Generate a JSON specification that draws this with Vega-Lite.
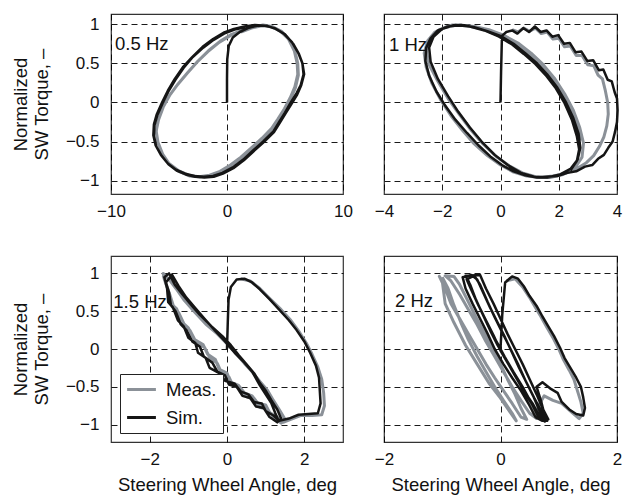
{
"$schema": "https://vega.github.io/schema/vega-lite/v6.json",
"padding": {"left": 11, "top": 13, "right": 3, "bottom": 0},
"config": {
 "font": "Liberation Sans",
 "view": {"stroke": "#333", "strokeWidth": 1.2},
 "axis": {"grid": true, "gridColor": "#000", "gridDash": [6, 4], "gridWidth": 0.9, "gridOpacity": 1, "domain": false, "ticks": false, "labelFontSize": 17, "labelColor": "#111", "titleFontSize": 18.5, "titleColor": "#111", "titleFontWeight": "normal", "labelFlush": false, "labelOverlap": false, "labelBound": false, "format": ".2~f"},
 "axisX": {"labelPadding": 9, "titlePadding": 8},
 "axisY": {"labelPadding": 12, "titlePadding": 14},
 "legend": {"orient": "bottom-left", "offset": 9, "fillColor": "white", "strokeColor": "#222", "padding": 6, "symbolType": "M-1.8,0H1.8", "symbolSize": 256, "symbolOffset": 6, "symbolStrokeWidth": 3, "labelFontSize": 18.5, "labelColor": "#111", "labelOffset": 15, "rowPadding": 9, "title": null}
},
"datasets": {
 "s1": [{"i":0,"x":0,"y":0},{"i":1,"x":0,"y":0.3},{"i":2,"x":0.02,"y":0.55},{"i":3,"x":0.15,"y":0.72},{"i":4,"x":0.5,"y":0.83},{"i":5,"x":1.1,"y":0.9},{"i":6,"x":1.8,"y":0.95},{"i":7,"x":2.6,"y":0.98},{"i":8,"x":3.4,"y":0.98},{"i":9,"x":4.2,"y":0.94},{"i":10,"x":5.0,"y":0.87},{"i":11,"x":5.7,"y":0.75},{"i":12,"x":6.2,"y":0.62},{"i":13,"x":6.5,"y":0.5},{"i":14,"x":6.6,"y":0.36},{"i":15,"x":6.35,"y":0.22},{"i":16,"x":6.0,"y":0.12},{"i":17,"x":5.5,"y":0.0},{"i":18,"x":5.0,"y":-0.13},{"i":19,"x":4.5,"y":-0.25},{"i":20,"x":4.0,"y":-0.37},{"i":21,"x":3.1,"y":-0.5},{"i":22,"x":2.2,"y":-0.62},{"i":23,"x":1.4,"y":-0.73},{"i":24,"x":0.5,"y":-0.83},{"i":25,"x":-0.4,"y":-0.9},{"i":26,"x":-1.2,"y":-0.94},{"i":27,"x":-2.0,"y":-0.95},{"i":28,"x":-2.8,"y":-0.94},{"i":29,"x":-3.6,"y":-0.91},{"i":30,"x":-4.4,"y":-0.86},{"i":31,"x":-5.1,"y":-0.78},{"i":32,"x":-5.7,"y":-0.67},{"i":33,"x":-6.15,"y":-0.55},{"i":34,"x":-6.35,"y":-0.42},{"i":35,"x":-6.3,"y":-0.28},{"i":36,"x":-6.05,"y":-0.15},{"i":37,"x":-5.6,"y":0.0},{"i":38,"x":-5.1,"y":0.15},{"i":39,"x":-4.5,"y":0.3},{"i":40,"x":-3.8,"y":0.45},{"i":41,"x":-3.0,"y":0.58},{"i":42,"x":-2.1,"y":0.71},{"i":43,"x":-1.2,"y":0.81},{"i":44,"x":-0.3,"y":0.89},{"i":45,"x":0.6,"y":0.94},{"i":46,"x":1.5,"y":0.97},{"i":47,"x":2.4,"y":0.99},{"i":48,"x":3.3,"y":0.98},{"i":49,"x":4.1,"y":0.95},{"i":50,"x":4.9,"y":0.88},{"i":51,"x":5.6,"y":0.77},{"i":52,"x":6.15,"y":0.63},{"i":53,"x":6.5,"y":0.5},{"i":54,"x":6.65,"y":0.36},{"i":55,"x":6.4,"y":0.22},{"i":56,"x":6.05,"y":0.1},{"i":57,"x":5.55,"y":-0.02},{"i":58,"x":5.05,"y":-0.14},{"i":59,"x":4.55,"y":-0.26},{"i":60,"x":4.05,"y":-0.38},{"i":61,"x":3.15,"y":-0.51},{"i":62,"x":2.25,"y":-0.63},{"i":63,"x":1.45,"y":-0.74},{"i":64,"x":0.55,"y":-0.84},{"i":65,"x":-0.35,"y":-0.91},{"i":66,"x":-1.15,"y":-0.95},{"i":67,"x":-1.95,"y":-0.96},{"i":68,"x":-2.75,"y":-0.95},{"i":69,"x":-3.55,"y":-0.92},{"i":70,"x":-4.35,"y":-0.87},{"i":71,"x":-5.05,"y":-0.79},{"i":72,"x":-5.65,"y":-0.68},{"i":73,"x":-6.1,"y":-0.56},{"i":74,"x":-6.3,"y":-0.43},{"i":75,"x":-6.25,"y":-0.29},{"i":76,"x":-6.0,"y":-0.16},{"i":77,"x":-5.55,"y":-0.01},{"i":78,"x":-5.05,"y":0.14},{"i":79,"x":-4.45,"y":0.29},{"i":80,"x":-3.75,"y":0.44},{"i":81,"x":-2.95,"y":0.58},{"i":82,"x":-2.05,"y":0.7},{"i":83,"x":-1.15,"y":0.8},{"i":84,"x":-0.25,"y":0.88},{"i":85,"x":0.65,"y":0.93},{"i":86,"x":1.55,"y":0.96}],
 "m1": [{"i":0,"x":1.2,"y":0.9},{"i":1,"x":2.1,"y":0.95},{"i":2,"x":3.0,"y":0.98},{"i":3,"x":3.8,"y":0.97},{"i":4,"x":4.6,"y":0.91},{"i":5,"x":5.3,"y":0.81},{"i":6,"x":5.8,"y":0.66},{"i":7,"x":6.05,"y":0.5},{"i":8,"x":6.1,"y":0.36},{"i":9,"x":5.85,"y":0.2},{"i":10,"x":5.45,"y":0.06},{"i":11,"x":4.95,"y":-0.08},{"i":12,"x":4.4,"y":-0.21},{"i":13,"x":3.85,"y":-0.33},{"i":14,"x":3.0,"y":-0.46},{"i":15,"x":2.1,"y":-0.58},{"i":16,"x":1.2,"y":-0.7},{"i":17,"x":0.3,"y":-0.8},{"i":18,"x":-0.6,"y":-0.88},{"i":19,"x":-1.5,"y":-0.93},{"i":20,"x":-2.4,"y":-0.95},{"i":21,"x":-3.3,"y":-0.93},{"i":22,"x":-4.2,"y":-0.87},{"i":23,"x":-5.0,"y":-0.78},{"i":24,"x":-5.6,"y":-0.65},{"i":25,"x":-6.0,"y":-0.5},{"i":26,"x":-6.1,"y":-0.36},{"i":27,"x":-5.9,"y":-0.22},{"i":28,"x":-5.5,"y":-0.06},{"i":29,"x":-4.9,"y":0.1},{"i":30,"x":-4.2,"y":0.24},{"i":31,"x":-3.4,"y":0.38},{"i":32,"x":-2.5,"y":0.53},{"i":33,"x":-1.6,"y":0.66},{"i":34,"x":-0.6,"y":0.78},{"i":35,"x":0.4,"y":0.87},{"i":36,"x":1.3,"y":0.92},{"i":37,"x":2.2,"y":0.96},{"i":38,"x":3.1,"y":0.99},{"i":39,"x":3.9,"y":0.97},{"i":40,"x":4.7,"y":0.91},{"i":41,"x":5.35,"y":0.8},{"i":42,"x":5.85,"y":0.66},{"i":43,"x":6.1,"y":0.5},{"i":44,"x":6.15,"y":0.35},{"i":45,"x":5.9,"y":0.19},{"i":46,"x":5.5,"y":0.05},{"i":47,"x":5.0,"y":-0.09},{"i":48,"x":4.45,"y":-0.22},{"i":49,"x":3.9,"y":-0.34},{"i":50,"x":3.05,"y":-0.47},{"i":51,"x":2.15,"y":-0.59},{"i":52,"x":1.25,"y":-0.71},{"i":53,"x":0.35,"y":-0.81},{"i":54,"x":-0.55,"y":-0.88},{"i":55,"x":-1.45,"y":-0.93},{"i":56,"x":-2.35,"y":-0.95},{"i":57,"x":-3.25,"y":-0.94},{"i":58,"x":-4.15,"y":-0.88},{"i":59,"x":-4.95,"y":-0.79},{"i":60,"x":-5.55,"y":-0.66},{"i":61,"x":-5.95,"y":-0.51},{"i":62,"x":-6.1,"y":-0.37},{"i":63,"x":-5.95,"y":-0.23},{"i":64,"x":-5.55,"y":-0.07},{"i":65,"x":-4.95,"y":0.09},{"i":66,"x":-4.25,"y":0.23},{"i":67,"x":-3.45,"y":0.37},{"i":68,"x":-2.55,"y":0.52},{"i":69,"x":-1.65,"y":0.65},{"i":70,"x":-0.65,"y":0.77},{"i":71,"x":0.35,"y":0.86},{"i":72,"x":1.25,"y":0.91}],
 "s2": [{"i":0,"x":0,"y":0},{"i":1,"x":0.02,"y":0.4},{"i":2,"x":0.05,"y":0.85},{"i":3,"x":0.2,"y":0.9},{"i":4,"x":0.4,"y":0.92},{"i":5,"x":0.58,"y":0.88},{"i":6,"x":0.78,"y":0.95},{"i":7,"x":0.98,"y":0.9},{"i":8,"x":1.18,"y":0.97},{"i":9,"x":1.38,"y":0.9},{"i":10,"x":1.58,"y":0.92},{"i":11,"x":1.78,"y":0.84},{"i":12,"x":1.98,"y":0.86},{"i":13,"x":2.18,"y":0.75},{"i":14,"x":2.38,"y":0.76},{"i":15,"x":2.58,"y":0.64},{"i":16,"x":2.78,"y":0.65},{"i":17,"x":2.98,"y":0.53},{"i":18,"x":3.18,"y":0.54},{"i":19,"x":3.38,"y":0.41},{"i":20,"x":3.53,"y":0.42},{"i":21,"x":3.68,"y":0.29},{"i":22,"x":3.82,"y":0.27},{"i":23,"x":3.92,"y":0.13},{"i":24,"x":4.0,"y":0.05},{"i":25,"x":4.02,"y":-0.1},{"i":26,"x":4.0,"y":-0.25},{"i":27,"x":3.93,"y":-0.38},{"i":28,"x":3.85,"y":-0.5},{"i":29,"x":3.7,"y":-0.58},{"i":30,"x":3.55,"y":-0.67},{"i":31,"x":3.35,"y":-0.72},{"i":32,"x":3.15,"y":-0.8},{"i":33,"x":2.9,"y":-0.82},{"i":34,"x":2.6,"y":-0.88},{"i":35,"x":2.3,"y":-0.9},{"i":36,"x":1.95,"y":-0.94},{"i":37,"x":1.6,"y":-0.95},{"i":38,"x":1.25,"y":-0.96},{"i":39,"x":0.85,"y":-0.93},{"i":40,"x":0.45,"y":-0.88},{"i":41,"x":0.05,"y":-0.8},{"i":42,"x":-0.35,"y":-0.69},{"i":43,"x":-0.75,"y":-0.55},{"i":44,"x":-1.15,"y":-0.39},{"i":45,"x":-1.55,"y":-0.22},{"i":46,"x":-1.9,"y":-0.04},{"i":47,"x":-2.2,"y":0.14},{"i":48,"x":-2.45,"y":0.34},{"i":49,"x":-2.58,"y":0.53},{"i":50,"x":-2.55,"y":0.7},{"i":51,"x":-2.4,"y":0.82},{"i":52,"x":-2.15,"y":0.92},{"i":53,"x":-1.8,"y":0.97},{"i":54,"x":-1.35,"y":0.99},{"i":55,"x":-0.9,"y":0.96},{"i":56,"x":-0.45,"y":0.91},{"i":57,"x":0.0,"y":0.85},{"i":58,"x":0.45,"y":0.75},{"i":59,"x":0.85,"y":0.63},{"i":60,"x":1.25,"y":0.5},{"i":61,"x":1.6,"y":0.36},{"i":62,"x":1.95,"y":0.19},{"i":63,"x":2.25,"y":0.0},{"i":64,"x":2.5,"y":-0.2},{"i":65,"x":2.68,"y":-0.4},{"i":66,"x":2.74,"y":-0.58},{"i":67,"x":2.65,"y":-0.73},{"i":68,"x":2.4,"y":-0.85},{"i":69,"x":2.05,"y":-0.92},{"i":70,"x":1.6,"y":-0.96},{"i":71,"x":1.15,"y":-0.95},{"i":72,"x":0.7,"y":-0.9},{"i":73,"x":0.25,"y":-0.8},{"i":74,"x":-0.2,"y":-0.67},{"i":75,"x":-0.65,"y":-0.5},{"i":76,"x":-1.05,"y":-0.32},{"i":77,"x":-1.45,"y":-0.12},{"i":78,"x":-1.8,"y":0.08},{"i":79,"x":-2.15,"y":0.3},{"i":80,"x":-2.4,"y":0.52},{"i":81,"x":-2.45,"y":0.7},{"i":82,"x":-2.3,"y":0.84},{"i":83,"x":-2.0,"y":0.94},{"i":84,"x":-1.55,"y":0.99},{"i":85,"x":-1.05,"y":0.97},{"i":86,"x":-0.55,"y":0.92},{"i":87,"x":-0.05,"y":0.84},{"i":88,"x":0.4,"y":0.74},{"i":89,"x":0.8,"y":0.62},{"i":90,"x":1.2,"y":0.49},{"i":91,"x":1.55,"y":0.35},{"i":92,"x":1.9,"y":0.18},{"i":93,"x":2.2,"y":-0.01},{"i":94,"x":2.45,"y":-0.22},{"i":95,"x":2.62,"y":-0.43},{"i":96,"x":2.7,"y":-0.6},{"i":97,"x":2.62,"y":-0.75},{"i":98,"x":2.4,"y":-0.87}],
 "m2": [{"i":0,"x":0.4,"y":0.93},{"i":1,"x":0.6,"y":0.9},{"i":2,"x":0.8,"y":0.95},{"i":3,"x":1.0,"y":0.91},{"i":4,"x":1.2,"y":0.95},{"i":5,"x":1.4,"y":0.88},{"i":6,"x":1.6,"y":0.9},{"i":7,"x":1.8,"y":0.81},{"i":8,"x":2.0,"y":0.82},{"i":9,"x":2.2,"y":0.71},{"i":10,"x":2.4,"y":0.72},{"i":11,"x":2.6,"y":0.6},{"i":12,"x":2.8,"y":0.6},{"i":13,"x":3.0,"y":0.48},{"i":14,"x":3.2,"y":0.47},{"i":15,"x":3.35,"y":0.35},{"i":16,"x":3.5,"y":0.3},{"i":17,"x":3.6,"y":0.15},{"i":18,"x":3.68,"y":0.0},{"i":19,"x":3.7,"y":-0.15},{"i":20,"x":3.65,"y":-0.3},{"i":21,"x":3.55,"y":-0.44},{"i":22,"x":3.4,"y":-0.56},{"i":23,"x":3.2,"y":-0.68},{"i":24,"x":2.95,"y":-0.77},{"i":25,"x":2.6,"y":-0.85},{"i":26,"x":2.2,"y":-0.91},{"i":27,"x":1.8,"y":-0.94},{"i":28,"x":1.35,"y":-0.96},{"i":29,"x":0.9,"y":-0.94},{"i":30,"x":0.45,"y":-0.89},{"i":31,"x":0.0,"y":-0.8},{"i":32,"x":-0.45,"y":-0.68},{"i":33,"x":-0.9,"y":-0.53},{"i":34,"x":-1.3,"y":-0.36},{"i":35,"x":-1.7,"y":-0.17},{"i":36,"x":-2.05,"y":0.03},{"i":37,"x":-2.35,"y":0.24},{"i":38,"x":-2.55,"y":0.45},{"i":39,"x":-2.62,"y":0.63},{"i":40,"x":-2.5,"y":0.79},{"i":41,"x":-2.25,"y":0.9},{"i":42,"x":-1.85,"y":0.97},{"i":43,"x":-1.4,"y":0.99},{"i":44,"x":-0.9,"y":0.97},{"i":45,"x":-0.4,"y":0.93},{"i":46,"x":0.1,"y":0.86},{"i":47,"x":0.6,"y":0.76},{"i":48,"x":1.05,"y":0.63},{"i":49,"x":1.45,"y":0.49},{"i":50,"x":1.85,"y":0.31},{"i":51,"x":2.2,"y":0.11},{"i":52,"x":2.5,"y":-0.1},{"i":53,"x":2.72,"y":-0.32},{"i":54,"x":2.85,"y":-0.52},{"i":55,"x":2.8,"y":-0.7},{"i":56,"x":2.55,"y":-0.84},{"i":57,"x":2.15,"y":-0.92},{"i":58,"x":1.7,"y":-0.96},{"i":59,"x":1.2,"y":-0.95},{"i":60,"x":0.75,"y":-0.9},{"i":61,"x":0.3,"y":-0.81},{"i":62,"x":-0.15,"y":-0.69},{"i":63,"x":-0.6,"y":-0.53},{"i":64,"x":-1.0,"y":-0.36},{"i":65,"x":-1.4,"y":-0.16},{"i":66,"x":-1.8,"y":0.05},{"i":67,"x":-2.15,"y":0.27},{"i":68,"x":-2.45,"y":0.48},{"i":69,"x":-2.55,"y":0.67},{"i":70,"x":-2.4,"y":0.82},{"i":71,"x":-2.1,"y":0.93},{"i":72,"x":-1.65,"y":0.99},{"i":73,"x":-1.15,"y":0.98},{"i":74,"x":-0.65,"y":0.94},{"i":75,"x":-0.15,"y":0.87},{"i":76,"x":0.35,"y":0.78},{"i":77,"x":0.8,"y":0.66},{"i":78,"x":1.25,"y":0.52},{"i":79,"x":1.65,"y":0.35},{"i":80,"x":2.0,"y":0.16},{"i":81,"x":2.35,"y":-0.05},{"i":82,"x":2.6,"y":-0.27},{"i":83,"x":2.78,"y":-0.48}],
 "s3": [{"i":0,"x":0,"y":0},{"i":1,"x":0.02,"y":0.35},{"i":2,"x":0.04,"y":0.65},{"i":3,"x":0.1,"y":0.82},{"i":4,"x":0.25,"y":0.92},{"i":5,"x":0.45,"y":0.93},{"i":6,"x":0.65,"y":0.88},{"i":7,"x":0.85,"y":0.79},{"i":8,"x":1.1,"y":0.66},{"i":9,"x":1.35,"y":0.52},{"i":10,"x":1.6,"y":0.38},{"i":11,"x":1.8,"y":0.25},{"i":12,"x":2.0,"y":0.1},{"i":13,"x":2.15,"y":-0.05},{"i":14,"x":2.3,"y":-0.22},{"i":15,"x":2.38,"y":-0.38},{"i":16,"x":2.4,"y":-0.55},{"i":17,"x":2.42,"y":-0.72},{"i":18,"x":2.35,"y":-0.85},{"i":19,"x":2.1,"y":-0.86},{"i":20,"x":1.85,"y":-0.87},{"i":21,"x":1.6,"y":-0.92},{"i":22,"x":1.35,"y":-0.95},{"i":23,"x":1.2,"y":-0.88},{"i":24,"x":1.0,"y":-0.82},{"i":25,"x":0.9,"y":-0.72},{"i":26,"x":0.7,"y":-0.7},{"i":27,"x":0.55,"y":-0.6},{"i":28,"x":0.35,"y":-0.56},{"i":29,"x":0.2,"y":-0.46},{"i":30,"x":-0.05,"y":-0.42},{"i":31,"x":-0.2,"y":-0.32},{"i":32,"x":-0.45,"y":-0.25},{"i":33,"x":-0.55,"y":-0.12},{"i":34,"x":-0.75,"y":-0.05},{"i":35,"x":-0.82,"y":0.08},{"i":36,"x":-1.0,"y":0.15},{"i":37,"x":-1.12,"y":0.3},{"i":38,"x":-1.27,"y":0.38},{"i":39,"x":-1.4,"y":0.55},{"i":40,"x":-1.52,"y":0.62},{"i":41,"x":-1.55,"y":0.8},{"i":42,"x":-1.62,"y":0.95},{"i":43,"x":-1.5,"y":1.0},{"i":44,"x":-1.35,"y":0.85},{"i":45,"x":-1.15,"y":0.72},{"i":46,"x":-0.92,"y":0.58},{"i":47,"x":-0.7,"y":0.45},{"i":48,"x":-0.4,"y":0.3},{"i":49,"x":-0.12,"y":0.17},{"i":50,"x":0.1,"y":0.05},{"i":51,"x":0.3,"y":-0.08},{"i":52,"x":0.5,"y":-0.2},{"i":53,"x":0.7,"y":-0.32},{"i":54,"x":0.85,"y":-0.45},{"i":55,"x":1.0,"y":-0.55},{"i":56,"x":1.15,"y":-0.68},{"i":57,"x":1.3,"y":-0.8},{"i":58,"x":1.4,"y":-0.92},{"i":59,"x":1.3,"y":-0.97},{"i":60,"x":1.1,"y":-0.9},{"i":61,"x":0.95,"y":-0.78},{"i":62,"x":0.75,"y":-0.76},{"i":63,"x":0.6,"y":-0.65},{"i":64,"x":0.4,"y":-0.62},{"i":65,"x":0.25,"y":-0.5},{"i":66,"x":0.05,"y":-0.47},{"i":67,"x":-0.05,"y":-0.35},{"i":68,"x":-0.25,"y":-0.3},{"i":69,"x":-0.38,"y":-0.18},{"i":70,"x":-0.6,"y":-0.1},{"i":71,"x":-0.7,"y":0.03},{"i":72,"x":-0.9,"y":0.1},{"i":73,"x":-1.05,"y":0.25},{"i":74,"x":-1.2,"y":0.33},{"i":75,"x":-1.33,"y":0.5},{"i":76,"x":-1.45,"y":0.58},{"i":77,"x":-1.5,"y":0.75},{"i":78,"x":-1.58,"y":0.88},{"i":79,"x":-1.42,"y":0.98},{"i":80,"x":-1.25,"y":0.83},{"i":81,"x":-1.05,"y":0.68},{"i":82,"x":-0.82,"y":0.54},{"i":83,"x":-0.58,"y":0.4},{"i":84,"x":-0.32,"y":0.25},{"i":85,"x":-0.05,"y":0.1},{"i":86,"x":0.2,"y":-0.05},{"i":87,"x":0.45,"y":-0.18},{"i":88,"x":0.65,"y":-0.3},{"i":89,"x":0.85,"y":-0.48},{"i":90,"x":1.0,"y":-0.6},{"i":91,"x":1.15,"y":-0.72},{"i":92,"x":1.25,"y":-0.85},{"i":93,"x":1.35,"y":-0.97}],
 "m3": [{"i":0,"x":0.35,"y":0.93},{"i":1,"x":0.6,"y":0.9},{"i":2,"x":0.85,"y":0.8},{"i":3,"x":1.1,"y":0.67},{"i":4,"x":1.4,"y":0.52},{"i":5,"x":1.65,"y":0.38},{"i":6,"x":1.85,"y":0.24},{"i":7,"x":2.05,"y":0.08},{"i":8,"x":2.2,"y":-0.07},{"i":9,"x":2.35,"y":-0.24},{"i":10,"x":2.45,"y":-0.4},{"i":11,"x":2.5,"y":-0.58},{"i":12,"x":2.52,"y":-0.75},{"i":13,"x":2.45,"y":-0.87},{"i":14,"x":2.2,"y":-0.88},{"i":15,"x":1.9,"y":-0.88},{"i":16,"x":1.65,"y":-0.93},{"i":17,"x":1.45,"y":-0.97},{"i":18,"x":1.3,"y":-0.9},{"i":19,"x":1.1,"y":-0.84},{"i":20,"x":1.0,"y":-0.74},{"i":21,"x":0.8,"y":-0.72},{"i":22,"x":0.65,"y":-0.62},{"i":23,"x":0.45,"y":-0.58},{"i":24,"x":0.3,"y":-0.48},{"i":25,"x":0.1,"y":-0.44},{"i":26,"x":0.0,"y":-0.32},{"i":27,"x":-0.2,"y":-0.27},{"i":28,"x":-0.3,"y":-0.14},{"i":29,"x":-0.5,"y":-0.07},{"i":30,"x":-0.62,"y":0.06},{"i":31,"x":-0.85,"y":0.13},{"i":32,"x":-1.0,"y":0.28},{"i":33,"x":-1.17,"y":0.36},{"i":34,"x":-1.3,"y":0.53},{"i":35,"x":-1.45,"y":0.6},{"i":36,"x":-1.52,"y":0.78},{"i":37,"x":-1.62,"y":0.92},{"i":38,"x":-1.65,"y":1.0},{"i":39,"x":-1.5,"y":0.92},{"i":40,"x":-1.32,"y":0.8},{"i":41,"x":-1.1,"y":0.64},{"i":42,"x":-0.82,"y":0.48},{"i":43,"x":-0.55,"y":0.33},{"i":44,"x":-0.25,"y":0.2},{"i":45,"x":0.0,"y":0.07},{"i":46,"x":0.25,"y":-0.07},{"i":47,"x":0.45,"y":-0.19},{"i":48,"x":0.65,"y":-0.3},{"i":49,"x":0.85,"y":-0.43},{"i":50,"x":1.05,"y":-0.55},{"i":51,"x":1.2,"y":-0.68},{"i":52,"x":1.35,"y":-0.8},{"i":53,"x":1.5,"y":-0.93},{"i":54,"x":1.4,"y":-0.98},{"i":55,"x":1.2,"y":-0.9},{"i":56,"x":1.05,"y":-0.8},{"i":57,"x":0.85,"y":-0.77},{"i":58,"x":0.7,"y":-0.67},{"i":59,"x":0.5,"y":-0.63},{"i":60,"x":0.35,"y":-0.52},{"i":61,"x":0.15,"y":-0.48},{"i":62,"x":0.05,"y":-0.37},{"i":63,"x":-0.15,"y":-0.31},{"i":64,"x":-0.25,"y":-0.19},{"i":65,"x":-0.45,"y":-0.11},{"i":66,"x":-0.58,"y":0.02},{"i":67,"x":-0.8,"y":0.09},{"i":68,"x":-0.95,"y":0.24},{"i":69,"x":-1.1,"y":0.32},{"i":70,"x":-1.25,"y":0.48},{"i":71,"x":-1.38,"y":0.56},{"i":72,"x":-1.48,"y":0.72},{"i":73,"x":-1.58,"y":0.86},{"i":74,"x":-1.65,"y":0.97}],
 "s4": [{"i":0,"x":0,"y":0},{"i":1,"x":0.03,"y":0.45},{"i":2,"x":0.08,"y":0.88},{"i":3,"x":0.2,"y":0.96},{"i":4,"x":0.3,"y":0.93},{"i":5,"x":0.4,"y":0.83},{"i":6,"x":0.5,"y":0.7},{"i":7,"x":0.62,"y":0.57},{"i":8,"x":0.72,"y":0.43},{"i":9,"x":0.82,"y":0.3},{"i":10,"x":0.92,"y":0.17},{"i":11,"x":1.02,"y":0.02},{"i":12,"x":1.1,"y":-0.12},{"i":13,"x":1.2,"y":-0.25},{"i":14,"x":1.3,"y":-0.38},{"i":15,"x":1.38,"y":-0.5},{"i":16,"x":1.42,"y":-0.64},{"i":17,"x":1.45,"y":-0.78},{"i":18,"x":1.42,"y":-0.88},{"i":19,"x":1.3,"y":-0.86},{"i":20,"x":1.18,"y":-0.8},{"i":21,"x":1.05,"y":-0.7},{"i":22,"x":0.98,"y":-0.58},{"i":23,"x":0.85,"y":-0.52},{"i":24,"x":0.72,"y":-0.44},{"i":25,"x":0.62,"y":-0.5},{"i":26,"x":0.7,"y":-0.7},{"i":27,"x":0.75,"y":-0.85},{"i":28,"x":0.72,"y":-0.95},{"i":29,"x":0.6,"y":-0.9},{"i":30,"x":0.5,"y":-0.75},{"i":31,"x":0.35,"y":-0.55},{"i":32,"x":0.2,"y":-0.38},{"i":33,"x":0.05,"y":-0.2},{"i":34,"x":-0.1,"y":0.0},{"i":35,"x":-0.22,"y":0.2},{"i":36,"x":-0.35,"y":0.4},{"i":37,"x":-0.48,"y":0.6},{"i":38,"x":-0.6,"y":0.8},{"i":39,"x":-0.65,"y":0.95},{"i":40,"x":-0.5,"y":0.98},{"i":41,"x":-0.4,"y":0.92},{"i":42,"x":-0.3,"y":0.75},{"i":43,"x":-0.18,"y":0.55},{"i":44,"x":-0.05,"y":0.35},{"i":45,"x":0.08,"y":0.15},{"i":46,"x":0.2,"y":-0.05},{"i":47,"x":0.32,"y":-0.25},{"i":48,"x":0.45,"y":-0.45},{"i":49,"x":0.58,"y":-0.65},{"i":50,"x":0.7,"y":-0.82},{"i":51,"x":0.8,"y":-0.95},{"i":52,"x":0.7,"y":-0.93},{"i":53,"x":0.55,"y":-0.72},{"i":54,"x":0.4,"y":-0.55},{"i":55,"x":0.25,"y":-0.35},{"i":56,"x":0.1,"y":-0.15},{"i":57,"x":-0.05,"y":0.05},{"i":58,"x":-0.18,"y":0.25},{"i":59,"x":-0.3,"y":0.45},{"i":60,"x":-0.42,"y":0.65},{"i":61,"x":-0.52,"y":0.85},{"i":62,"x":-0.6,"y":0.97},{"i":63,"x":-0.35,"y":0.98},{"i":64,"x":-0.25,"y":0.8},{"i":65,"x":-0.12,"y":0.6},{"i":66,"x":0.0,"y":0.4},{"i":67,"x":0.12,"y":0.2},{"i":68,"x":0.25,"y":0.0},{"i":69,"x":0.38,"y":-0.2},{"i":70,"x":0.5,"y":-0.4},{"i":71,"x":0.62,"y":-0.6},{"i":72,"x":0.72,"y":-0.78},{"i":73,"x":0.82,"y":-0.93},{"i":74,"x":0.72,"y":-0.95},{"i":75,"x":0.6,"y":-0.8},{"i":76,"x":0.45,"y":-0.62},{"i":77,"x":0.3,"y":-0.42},{"i":78,"x":0.15,"y":-0.22},{"i":79,"x":0.0,"y":-0.02},{"i":80,"x":-0.12,"y":0.18},{"i":81,"x":-0.25,"y":0.38},{"i":82,"x":-0.38,"y":0.58},{"i":83,"x":-0.5,"y":0.78},{"i":84,"x":-0.58,"y":0.92},{"i":85,"x":-0.45,"y":0.97},{"i":86,"x":-0.35,"y":0.85},{"i":87,"x":-0.22,"y":0.62},{"i":88,"x":-0.1,"y":0.42},{"i":89,"x":0.03,"y":0.22},{"i":90,"x":0.16,"y":0.02},{"i":91,"x":0.3,"y":-0.2},{"i":92,"x":0.43,"y":-0.42},{"i":93,"x":0.56,"y":-0.62},{"i":94,"x":0.66,"y":-0.8},{"i":95,"x":0.76,"y":-0.96},{"i":96,"x":0.65,"y":-0.9},{"i":97,"x":0.52,"y":-0.7},{"i":98,"x":0.38,"y":-0.5},{"i":99,"x":0.22,"y":-0.3},{"i":100,"x":0.07,"y":-0.1},{"i":101,"x":-0.07,"y":0.1},{"i":102,"x":-0.2,"y":0.3},{"i":103,"x":-0.33,"y":0.5},{"i":104,"x":-0.45,"y":0.7},{"i":105,"x":-0.55,"y":0.9}],
 "m4": [{"i":0,"x":0.1,"y":0.9},{"i":1,"x":0.25,"y":0.93},{"i":2,"x":0.38,"y":0.82},{"i":3,"x":0.5,"y":0.68},{"i":4,"x":0.6,"y":0.55},{"i":5,"x":0.7,"y":0.42},{"i":6,"x":0.8,"y":0.28},{"i":7,"x":0.9,"y":0.15},{"i":8,"x":1.0,"y":0.0},{"i":9,"x":1.08,"y":-0.14},{"i":10,"x":1.18,"y":-0.28},{"i":11,"x":1.26,"y":-0.4},{"i":12,"x":1.32,"y":-0.55},{"i":13,"x":1.38,"y":-0.7},{"i":14,"x":1.42,"y":-0.85},{"i":15,"x":1.35,"y":-0.92},{"i":16,"x":1.2,"y":-0.82},{"i":17,"x":1.05,"y":-0.72},{"i":18,"x":0.9,"y":-0.68},{"i":19,"x":0.75,"y":-0.62},{"i":20,"x":0.65,"y":-0.75},{"i":21,"x":0.62,"y":-0.92},{"i":22,"x":0.5,"y":-0.85},{"i":23,"x":0.35,"y":-0.68},{"i":24,"x":0.2,"y":-0.5},{"i":25,"x":0.05,"y":-0.3},{"i":26,"x":-0.1,"y":-0.1},{"i":27,"x":-0.25,"y":0.1},{"i":28,"x":-0.4,"y":0.32},{"i":29,"x":-0.55,"y":0.52},{"i":30,"x":-0.7,"y":0.72},{"i":31,"x":-0.85,"y":0.9},{"i":32,"x":-0.95,"y":0.97},{"i":33,"x":-0.8,"y":0.96},{"i":34,"x":-0.7,"y":0.85},{"i":35,"x":-0.55,"y":0.62},{"i":36,"x":-0.42,"y":0.42},{"i":37,"x":-0.28,"y":0.22},{"i":38,"x":-0.15,"y":0.02},{"i":39,"x":0.0,"y":-0.2},{"i":40,"x":0.12,"y":-0.4},{"i":41,"x":0.25,"y":-0.6},{"i":42,"x":0.35,"y":-0.78},{"i":43,"x":0.45,"y":-0.93},{"i":44,"x":0.35,"y":-0.9},{"i":45,"x":0.2,"y":-0.72},{"i":46,"x":0.05,"y":-0.55},{"i":47,"x":-0.1,"y":-0.38},{"i":48,"x":-0.25,"y":-0.2},{"i":49,"x":-0.4,"y":0.0},{"i":50,"x":-0.55,"y":0.2},{"i":51,"x":-0.7,"y":0.4},{"i":52,"x":-0.85,"y":0.6},{"i":53,"x":-0.95,"y":0.8},{"i":54,"x":-1.05,"y":0.96},{"i":55,"x":-1.0,"y":0.9},{"i":56,"x":-0.95,"y":0.6},{"i":57,"x":-0.8,"y":0.35},{"i":58,"x":-0.6,"y":0.05},{"i":59,"x":-0.4,"y":-0.2},{"i":60,"x":-0.2,"y":-0.45},{"i":61,"x":0.0,"y":-0.65},{"i":62,"x":0.15,"y":-0.82},{"i":63,"x":0.27,"y":-0.95},{"i":64,"x":0.2,"y":-0.85},{"i":65,"x":0.05,"y":-0.68},{"i":66,"x":-0.1,"y":-0.5},{"i":67,"x":-0.25,"y":-0.3},{"i":68,"x":-0.4,"y":-0.1},{"i":69,"x":-0.55,"y":0.12},{"i":70,"x":-0.68,"y":0.35},{"i":71,"x":-0.8,"y":0.58},{"i":72,"x":-0.9,"y":0.8},{"i":73,"x":-1.0,"y":0.95}]
},
"columns": 2,
"spacing": {"row": 62, "column": 41},
"bounds": "flush",
"resolve": {"scale": {"color": "independent"}},
"concat": [
 {"width": 232, "height": 180, "layer": [
  {"data": {"name": "m1"}, "mark": {"type": "line", "strokeWidth": 3, "strokeJoin": "round"}, "encoding": {
    "x": {"field": "x", "type": "quantitative", "scale": {"domain": [-10, 10], "nice": false, "zero": false}, "axis": {"values": [-10, 0, 10], "title": null}},
    "y": {"field": "y", "type": "quantitative", "scale": {"domain": [-1.17, 1.13], "nice": false, "zero": false}, "axis": {"values": [-1, -0.5, 0, 0.5, 1], "title": ["Normalized", "SW Torque, –"]}},
    "order": {"field": "i"},
    "color": {"datum": "Meas.", "type": "nominal", "scale": {"domain": ["Meas.", "Sim."], "range": ["#8b9198", "#151515"]}, "legend": null}}},
  {"data": {"name": "s1"}, "mark": {"type": "line", "strokeWidth": 2.5, "strokeJoin": "round"}, "encoding": {
    "x": {"field": "x", "type": "quantitative"}, "y": {"field": "y", "type": "quantitative"}, "order": {"field": "i"},
    "color": {"datum": "Sim.", "type": "nominal", "legend": null}}},
  {"data": {"values": [{"t": "0.5 Hz", "x": -9.65, "y": 0.75}]}, "mark": {"type": "text", "align": "left", "baseline": "middle", "fontSize": 18.5, "color": "#111"}, "encoding": {
    "x": {"field": "x", "type": "quantitative"}, "y": {"field": "y", "type": "quantitative"}, "text": {"field": "t"}}}
 ]},
 {"width": 233, "height": 180, "layer": [
  {"data": {"name": "m2"}, "mark": {"type": "line", "strokeWidth": 3, "strokeJoin": "round"}, "encoding": {
    "x": {"field": "x", "type": "quantitative", "scale": {"domain": [-4, 4], "nice": false, "zero": false}, "axis": {"values": [-4, -2, 0, 2, 4], "title": null}},
    "y": {"field": "y", "type": "quantitative", "scale": {"domain": [-1.17, 1.13], "nice": false, "zero": false}, "axis": {"values": [-1, -0.5, 0, 0.5, 1], "labels": false, "title": null}},
    "order": {"field": "i"},
    "color": {"datum": "Meas.", "type": "nominal", "scale": {"domain": ["Meas.", "Sim."], "range": ["#8b9198", "#151515"]}, "legend": null}}},
  {"data": {"name": "s2"}, "mark": {"type": "line", "strokeWidth": 2.5, "strokeJoin": "round"}, "encoding": {
    "x": {"field": "x", "type": "quantitative"}, "y": {"field": "y", "type": "quantitative"}, "order": {"field": "i"},
    "color": {"datum": "Sim.", "type": "nominal", "legend": null}}},
  {"data": {"values": [{"t": "1 Hz", "x": -3.83, "y": 0.74}]}, "mark": {"type": "text", "align": "left", "baseline": "middle", "fontSize": 18.5, "color": "#111"}, "encoding": {
    "x": {"field": "x", "type": "quantitative"}, "y": {"field": "y", "type": "quantitative"}, "text": {"field": "t"}}}
 ]},
 {"width": 232, "height": 186, "layer": [
  {"data": {"name": "m3"}, "mark": {"type": "line", "strokeWidth": 3, "strokeJoin": "round"}, "encoding": {
    "x": {"field": "x", "type": "quantitative", "scale": {"domain": [-3, 3], "nice": false, "zero": false}, "axis": {"values": [-2, 0, 2], "title": "Steering Wheel Angle, deg"}},
    "y": {"field": "y", "type": "quantitative", "scale": {"domain": [-1.23, 1.23], "nice": false, "zero": false}, "axis": {"values": [-1, -0.5, 0, 0.5, 1], "title": ["Normalized", "SW Torque, –"]}},
    "order": {"field": "i"},
    "color": {"datum": "Meas.", "type": "nominal", "scale": {"domain": ["Meas.", "Sim."], "range": ["#8b9198", "#151515"]}}}},
  {"data": {"name": "s3"}, "mark": {"type": "line", "strokeWidth": 2.5, "strokeJoin": "round"}, "encoding": {
    "x": {"field": "x", "type": "quantitative"}, "y": {"field": "y", "type": "quantitative"}, "order": {"field": "i"},
    "color": {"datum": "Sim.", "type": "nominal"}}},
  {"data": {"values": [{"t": "1.5 Hz", "x": -2.94, "y": 0.62}]}, "mark": {"type": "text", "align": "left", "baseline": "middle", "fontSize": 18.5, "color": "#111"}, "encoding": {
    "x": {"field": "x", "type": "quantitative"}, "y": {"field": "y", "type": "quantitative"}, "text": {"field": "t"}}}
 ]},
 {"width": 233, "height": 186, "layer": [
  {"data": {"name": "m4"}, "mark": {"type": "line", "strokeWidth": 3, "strokeJoin": "round"}, "encoding": {
    "x": {"field": "x", "type": "quantitative", "scale": {"domain": [-2, 2], "nice": false, "zero": false}, "axis": {"values": [-2, 0, 2], "title": "Steering Wheel Angle, deg"}},
    "y": {"field": "y", "type": "quantitative", "scale": {"domain": [-1.23, 1.23], "nice": false, "zero": false}, "axis": {"values": [-1, -0.5, 0, 0.5, 1], "labels": false, "title": null}},
    "order": {"field": "i"},
    "color": {"datum": "Meas.", "type": "nominal", "scale": {"domain": ["Meas.", "Sim."], "range": ["#8b9198", "#151515"]}, "legend": null}}},
  {"data": {"name": "s4"}, "mark": {"type": "line", "strokeWidth": 2.5, "strokeJoin": "round"}, "encoding": {
    "x": {"field": "x", "type": "quantitative"}, "y": {"field": "y", "type": "quantitative"}, "order": {"field": "i"},
    "color": {"datum": "Sim.", "type": "nominal", "legend": null}}},
  {"data": {"values": [{"t": "2 Hz", "x": -1.81, "y": 0.64}]}, "mark": {"type": "text", "align": "left", "baseline": "middle", "fontSize": 18.5, "color": "#111"}, "encoding": {
    "x": {"field": "x", "type": "quantitative"}, "y": {"field": "y", "type": "quantitative"}, "text": {"field": "t"}}}
 ]}
]
}
